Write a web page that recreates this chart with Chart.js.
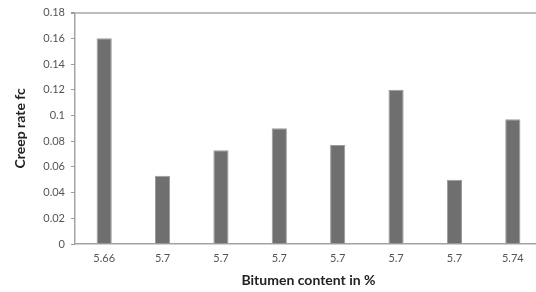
<!DOCTYPE html>
<html><head><meta charset="utf-8">
<script src="https://cdn.jsdelivr.net/npm/chart.js@4/dist/chart.umd.min.js"></script>
<style>html,body{margin:0;padding:0;background:#fff;overflow:hidden}#wrap{width:536px;height:292px;overflow:hidden}</style>
</head><body><div id="wrap"><canvas id="c" width="542" height="292"></canvas></div>
<script>
const categories = ['5.66','5.7','5.7','5.7','5.7','5.7','5.7','5.74'];
const creepRate = [0.16, 0.053, 0.073, 0.09, 0.077, 0.12, 0.05, 0.097];
const yTicks = [0, 0.02, 0.04, 0.06, 0.08, 0.1, 0.12, 0.14, 0.16, 0.18];
const xTitle = 'Bitumen content in %';
const yTitle = 'Creep rate fc';

new Chart(document.getElementById('c'), {
  type: 'bar',
  data: { labels: categories, datasets: [{ data: creepRate, backgroundColor: '#6f6f6f', borderColor: '#9c9c9c', borderWidth: 1, categoryPercentage: 1, barPercentage: 0.26 }] },
  options: {
    responsive: false, animation: false,
    layout: { padding: { top: 11, left: 0, right: 0, bottom: 0 } },
    plugins: { legend: { display: false }, tooltip: { enabled: false } },
    scales: {
      x: {
        grid: { display: false, drawTicks: false },
        border: { color: '#a3a3a3', width: 1.5 },
        ticks: { color: '#555', font: { family: 'Lato', size: 11 }, padding: 8, maxRotation: 0, autoSkip: false },
        title: { display: true, text: xTitle, color: '#222', font: { family: 'Lato', size: 14, weight: 'bold' }, padding: { top: 0, bottom: 3 } },
        afterFit: s => { s.height = 48; }
      },
      y: {
        min: 0, max: 0.18,
        afterBuildTicks: s => { s.ticks = yTicks.map(v => ({ value: v })); },
        grid: { color: c => c.tick && c.tick.value === 0.18 ? '#bdbdbd' : 'rgba(0,0,0,0)', lineWidth: c => c.tick && c.tick.value === 0.18 ? 2 : 1, tickColor: '#9a9a9a', tickLength: 4 },
        border: { color: '#a3a3a3', width: 1.5 },
        ticks: { color: '#555', font: { family: 'Lato', size: 11 }, padding: 6, callback: v => String(v) },
        title: { display: true, text: yTitle, color: '#222', font: { family: 'Lato', size: 14, weight: 'bold' }, padding: { top: 12, bottom: 0 } },
        afterFit: s => { s.width = 75; }
      }
    }
  }
});
</script></body></html>
